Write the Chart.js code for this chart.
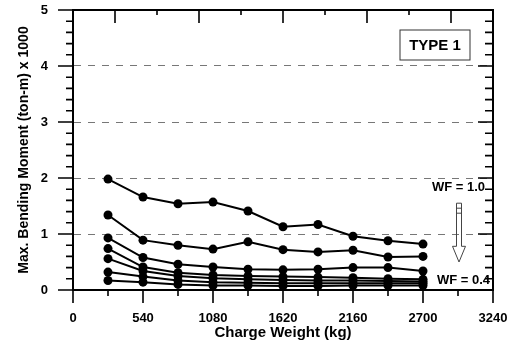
<!DOCTYPE html>
<html>
<head>
<meta charset="utf-8">
<script src="https://cdn.jsdelivr.net/npm/chart.js@4"></script>
<style>
  body { margin: 0; background: #fff; }
  #wrap { width: 517px; height: 347px; }
</style>
</head>
<body>
<div id="wrap"><canvas id="myChart" width="517" height="347"></canvas></div>
<script>
// charge weight (kg)
var charge = [270, 540, 810, 1080, 1350, 1620, 1890, 2160, 2430, 2700];
var xTicks = [0, 540, 1080, 1620, 2160, 2700, 3240];
var yTicks = [0, 1, 2, 3, 4, 5];

// max bending moment (ton-m x 1000), WF = 1.0 down to 0.4
var wf10 = [1.98, 1.66, 1.54, 1.57, 1.41, 1.13, 1.17, 0.96, 0.88, 0.82];
var wf09 = [1.34, 0.89, 0.80, 0.73, 0.86, 0.72, 0.68, 0.71, 0.59, 0.60];
var wf08 = [0.93, 0.58, 0.46, 0.41, 0.37, 0.36, 0.37, 0.40, 0.40, 0.34];
var wf07 = [0.74, 0.41, 0.31, 0.27, 0.25, 0.24, 0.23, 0.22, 0.20, 0.19];
var wf06 = [0.56, 0.34, 0.25, 0.21, 0.19, 0.18, 0.17, 0.17, 0.16, 0.15];
var wf05 = [0.32, 0.24, 0.17, 0.14, 0.13, 0.12, 0.12, 0.12, 0.12, 0.12];
var wf04 = [0.17, 0.14, 0.10, 0.08, 0.08, 0.07, 0.07, 0.08, 0.08, 0.08];

var seriesNames = ["WF = 1.0", "WF = 0.9", "WF = 0.8", "WF = 0.7", "WF = 0.6", "WF = 0.5", "WF = 0.4"];
var seriesVals = [wf10, wf09, wf08, wf07, wf06, wf05, wf04];

var FONT = "'Liberation Sans', Arial, sans-serif";

function pts(vals){
    return vals.map(function(v, i){ return {x: charge[i], y: v}; });
}

var datasets = seriesVals.map(function(vals, i){
    return {
        label: seriesNames[i],
        data: pts(vals),
        borderColor: "#000",
        borderWidth: 2,
        backgroundColor: "#000",
        pointBackgroundColor: "#000",
        pointBorderColor: "#000",
        pointRadius: 4.5,
        pointBorderWidth: 0,
        tension: 0
    };
});

// frame, minor ticks and the little notes
var frameTicks = {
    id: "frameTicks",
    afterDraw: function(chart){
        var c = chart.ctx, a = chart.chartArea;
        var sx = chart.scales.x, sy = chart.scales.y;
        c.save();
        c.strokeStyle = "#000";
        c.lineWidth = 2;
        // top + right border
        c.beginPath();
        c.moveTo(a.left, a.top); c.lineTo(a.right, a.top); c.lineTo(a.right, a.bottom);
        c.stroke();

        c.lineWidth = 1.6;
        c.beginPath();
        // bottom ticks (outside)
        for (var v = 0; v <= 3240; v += 270){
            var px = sx.getPixelForValue(v);
            var len = (v % 540 === 0) ? 13 : 6;
            c.moveTo(px, a.bottom); c.lineTo(px, a.bottom + len);
        }
        // top ticks (inside), ten divisions
        for (var i = 1; i < 10; i++){
            var tx = a.left + (a.right - a.left) * i / 10;
            var tl = (i % 2 === 1) ? 13 : 5;
            c.moveTo(tx, a.top); c.lineTo(tx, a.top + tl);
        }
        // left (outside) and right (inside) ticks
        for (var k = 0; k <= 25; k++){
            var yv = k * 0.2;
            var py = sy.getPixelForValue(yv);
            var major = (k % 5 === 0);
            c.moveTo(a.left, py); c.lineTo(a.left - (major ? 15 : 7), py);
            c.moveTo(a.right, py); c.lineTo(a.right - (major ? 15 : 8), py);
        }
        c.stroke();

        // TYPE 1 box
        c.lineWidth = 1;
        c.strokeStyle = "#333";
        c.strokeRect(a.right - 93, a.top + 20, 70, 30);
        c.fillStyle = "#000";
        c.font = "bold 15px " + FONT;
        c.textAlign = "center";
        c.textBaseline = "middle";
        c.fillText("TYPE 1", a.right - 58, a.top + 36);

        // WF labels
        c.font = "bold 13px " + FONT;
        c.textAlign = "right";
        c.fillText("WF = 1.0", a.right - 8, sy.getPixelForValue(1.83));
        c.fillText("WF = 0.4", a.right - 3, sy.getPixelForValue(0.17));

        // hollow arrow
        var ax = a.right - 34, y0 = sy.getPixelForValue(1.55), y1 = sy.getPixelForValue(0.5);
        var hy = sy.getPixelForValue(0.78);
        c.strokeStyle = "#444";
        c.lineWidth = 1;
        c.beginPath();
        c.moveTo(ax - 2.5, y0); c.lineTo(ax + 2.5, y0);
        c.lineTo(ax + 2.5, hy); c.lineTo(ax + 6.5, hy);
        c.lineTo(ax, y1);
        c.lineTo(ax - 6.5, hy); c.lineTo(ax - 2.5, hy);
        c.closePath();
        c.stroke();
        c.beginPath();
        c.moveTo(ax - 2.5, y0 + 5); c.lineTo(ax + 2.5, y0 + 5);
        c.moveTo(ax - 2.5, y0 + 10); c.lineTo(ax + 2.5, y0 + 10);
        c.stroke();
        c.restore();
    }
};

var ctx = document.getElementById("myChart").getContext("2d");
var myChart = new Chart(ctx, {
    type: "line",
    data: { datasets: datasets },
    plugins: [frameTicks],
    options: {
        responsive: false,
        animation: false,
        devicePixelRatio: 1,
        layout: { padding: { left: 0, right: 24, top: 10, bottom: 0 } },
        plugins: {
            legend: { display: false },
            tooltip: { enabled: false }
        },
        scales: {
            x: {
                type: "linear",
                min: 0,
                max: 3240,
                afterBuildTicks: function(s){ s.ticks = xTicks.map(function(v){ return {value: v}; }); },
                ticks: {
                    color: "#000",
                    padding: 2,
                    maxRotation: 0,
                    autoSkip: false,
                    font: { family: FONT, size: 13, weight: "bold" },
                    callback: function(v){ return String(v); }
                },
                grid: { display: true, drawOnChartArea: false, drawTicks: true, tickLength: 19, tickColor: "rgba(0,0,0,0)" },
                border: { color: "#000", width: 2 },
                title: {
                    display: true,
                    text: "Charge Weight (kg)",
                    color: "#000",
                    font: { family: FONT, size: 15, weight: "bold" },
                    padding: { top: 0, bottom: 5 }
                },
                afterFit: function(s){ s.height = 57; }
            },
            y: {
                min: 0,
                max: 5,
                afterBuildTicks: function(s){ s.ticks = yTicks.map(function(v){ return {value: v}; }); },
                ticks: {
                    color: "#000",
                    padding: 2,
                    font: { family: FONT, size: 13, weight: "bold" },
                    callback: function(v){ return String(v); }
                },
                grid: {
                    drawTicks: true,
                    tickLength: 23,
                    tickColor: "rgba(0,0,0,0)",
                    lineWidth: 1,
                    color: function(c){
                        var v = c.tick ? c.tick.value : 0;
                        return (v > 0 && v < 5) ? "#777" : "rgba(0,0,0,0)";
                    }
                },
                border: { color: "#000", width: 2, dash: [7, 7] },
                title: {
                    display: true,
                    text: "Max. Bending Moment (ton-m) x 1000",
                    color: "#000",
                    font: { family: FONT, size: 14, weight: "bold" },
                    padding: { top: 16, bottom: 0 }
                },
                afterFit: function(s){ s.width = 73; }
            }
        }
    }
});
</script>
</body>
</html>
